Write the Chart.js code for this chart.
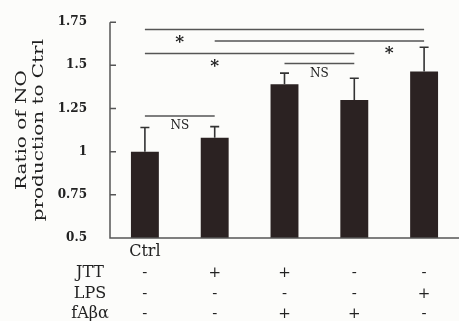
<!DOCTYPE html>
<html>
<head>
<meta charset="utf-8">
<script src="https://cdn.jsdelivr.net/npm/chart.js@4.4.1/dist/chart.umd.min.js"></script>
<style>
  body { margin: 0; background: #fcfcfa; }
  #wrap { width: 459px; height: 321px; position: relative; }
</style>
</head>
<body>
<div id="wrap"><canvas id="grafico"></canvas></div>
<script>
// datos
const groups = ["Ctrl", "JTT", "JTT+fAβ", "fAβ", "LPS"];
const ratioMeans = [1.00, 1.08, 1.39, 1.30, 1.465];
const ratioErrors = [0.14, 0.065, 0.065, 0.125, 0.14];
const yTicks = [0.5, 0.75, 1, 1.25, 1.5, 1.75];

// tabla de tratamientos debajo del eje
const rowNames = ["JTT", "LPS", "fAβα"];
const rowJTT = ["-", "+", "+", "-", "-"];
const rowLPS = ["-", "-", "-", "-", "+"];
const rowFAb = ["-", "-", "+", "+", "-"];

// comparaciones: desde, hasta, nivel (unidades del eje), texto, posicion del texto (indice)
const bracketFrom = [0, 1, 0, 2, 0];
const bracketTo = [4, 4, 3, 3, 1];
const bracketLevel = [1.707, 1.641, 1.569, 1.511, 1.207];
const bracketText = ["*", "*", "*", "NS", "NS"];
const bracketAt = [0.5, 3.5, 1.0, 2.5, 0.5];

const ink = "#2b2222";
const serif = "'DejaVu Serif', 'Liberation Serif', serif";

const extras = {
  id: "extras",
  afterDatasetsDraw(chart) {
    const {ctx, chartArea: a, scales: {x, y}} = chart;
    ctx.save();

    // ejes con marcas hacia adentro
    ctx.strokeStyle = "#555";
    ctx.lineWidth = 1.5;
    ctx.beginPath();
    ctx.moveTo(a.left, y.getPixelForValue(1.75));
    ctx.lineTo(a.left, a.bottom);
    ctx.lineTo(a.right, a.bottom);
    yTicks.forEach(v => {
      const py = y.getPixelForValue(v);
      ctx.moveTo(a.left, py);
      ctx.lineTo(a.left + 6, py);
    });
    ctx.stroke();

    // barras de error (solo hacia arriba)
    ctx.strokeStyle = "#333";
    ctx.lineWidth = 1.6;
    ratioMeans.forEach((m, i) => {
      const px = x.getPixelForValue(i);
      const top = y.getPixelForValue(m + ratioErrors[i]);
      ctx.beginPath();
      ctx.moveTo(px, y.getPixelForValue(m));
      ctx.lineTo(px, top);
      ctx.moveTo(px - 4.5, top);
      ctx.lineTo(px + 4.5, top);
      ctx.stroke();
    });

    // lineas de significancia
    ctx.strokeStyle = "#555";
    ctx.lineWidth = 1.5;
    ctx.fillStyle = "#222";
    ctx.textAlign = "center";
    ctx.textBaseline = "middle";
    bracketLevel.forEach((lv, i) => {
      const py = y.getPixelForValue(lv);
      ctx.beginPath();
      ctx.moveTo(x.getPixelForValue(bracketFrom[i]), py);
      ctx.lineTo(x.getPixelForValue(bracketTo[i]), py);
      ctx.stroke();
      const lx = x.getPixelForValue(bracketAt[i]);
      if (bracketText[i] === "*") {
        ctx.font = "bold 17px " + serif;
        ctx.fillText("*", lx, py + 13);
      } else {
        ctx.font = "12px " + serif;
        ctx.fillText(bracketText[i], lx, py + 10);
      }
    });

    // tabla inferior
    ctx.fillStyle = "#222";
    ctx.font = "16px " + serif;
    ctx.fillText("Ctrl", x.getPixelForValue(0), a.bottom + 14);
    const rows = [rowJTT, rowLPS, rowFAb];
    const rowY = [35, 56, 76];
    rows.forEach((r, k) => {
      ctx.font = "16px " + serif;
      ctx.fillText(rowNames[k], 90, a.bottom + rowY[k]);
      ctx.font = "15px " + serif;
      r.forEach((s, i) => {
        ctx.fillText(s, x.getPixelForValue(i), a.bottom + rowY[k]);
      });
    });

    // titulo del eje Y (dos lineas, estirado como en la figura)
    ctx.font = "15px " + serif;
    ctx.fillStyle = "#1e1e1e";
    const cy = (a.top + a.bottom) / 2;
    [["Ratio of NO", 22], ["production to Ctrl", 39]].forEach(([t, lx]) => {
      ctx.save();
      ctx.translate(lx, cy);
      ctx.rotate(-Math.PI / 2);
      ctx.scale(1.33, 1);
      ctx.fillText(t, 0, 0);
      ctx.restore();
    });

    ctx.restore();
  }
};

new Chart(document.getElementById("grafico").getContext("2d"), {
  type: "bar",
  data: {
    labels: groups,
    datasets: [{
      data: ratioMeans,
      backgroundColor: ink,
      barPercentage: 0.4,
      categoryPercentage: 1.0
    }]
  },
  options: {
    responsive: true,
    maintainAspectRatio: false,
    animation: false,
    layout: { padding: { left: 0, right: 0, top: 20, bottom: 83 } },
    plugins: { legend: { display: false }, tooltip: { enabled: false } },
    scales: {
      x: { display: false },
      y: {
        min: 0.5,
        max: 1.75,
        afterFit: s => { s.width = 110; },
        afterBuildTicks: s => { s.ticks = yTicks.map(v => ({ value: v })); },
        grid: { display: false },
        border: { display: false },
        ticks: {
          padding: 15,
          color: "#222",
          font: { family: serif, size: 12, weight: "bold" },
          callback: v => String(v)
        }
      }
    }
  },
  plugins: [extras]
});
</script>
</body>
</html>
